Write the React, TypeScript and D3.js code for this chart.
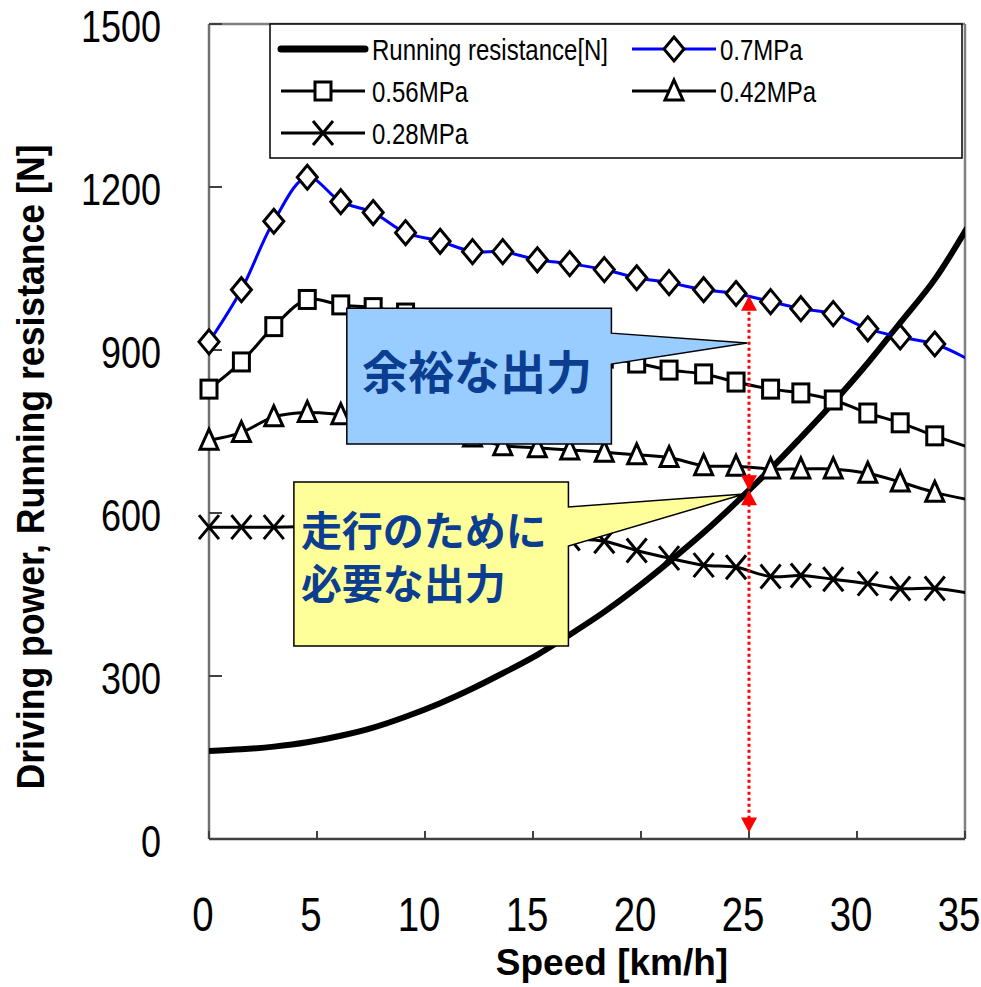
import React from "react";
import * as d3 from "d3";

const speeds = [0, 1.5, 3.0, 4.55, 6.1, 7.6, 9.1, 10.7, 12.2, 13.6, 15.2, 16.7, 18.3, 19.8, 21.3, 22.9, 24.4, 26.0, 27.4, 28.9, 30.5, 32.0, 33.6, 35.1];
const resistance = [162, 165, 170, 178, 190, 205, 225, 250, 277, 305, 339, 376, 418, 462, 510, 564, 619, 681, 739, 803, 876, 950, 1030, 1125];
const p070 = [915, 1011, 1137, 1218, 1173, 1153, 1116, 1100, 1081, 1081, 1066, 1059, 1048, 1033, 1024, 1011, 1004, 989, 976, 967, 939, 924, 911, 884];
const p056 = [828, 878, 943, 993, 983, 978, 968, 952, 937, 922, 907, 895, 885, 876, 863, 856, 841, 828, 821, 808, 784, 766, 742, 722];
const p042 = [734, 748, 777, 785, 781, 775, 765, 752, 740, 724, 720, 716, 712, 707, 702, 687, 686, 681, 681, 681, 673, 657, 638, 625];
const p028 = [574, 574, 574, 575, 576, 573, 570, 566, 562, 560, 558, 553, 548, 531, 517, 504, 500, 483, 485, 478, 470, 461, 461, 453];

const xTicks = [0, 5, 10, 15, 20, 25, 30, 35];
const yTicks = [0, 300, 600, 900, 1200, 1500];

const legendLabels = ["Running resistance[N]", "0.7MPa", "0.56MPa", "0.42MPa", "0.28MPa"];
const xTitle = "Speed [km/h]";
const yTitle = "Driving power,  Running resistance  [N]";
const note1 = ["余裕な出力"];
const note2 = ["走行のために", "必要な出力"];
const markSpeed = 25;
const markTop = 1000;
const markMid = 642;
const markBottom = 12;

const SANS = "'Liberation Sans', Arial, sans-serif";
const CJK = "'Noto Sans CJK JP', 'Noto Sans CJK SC', sans-serif";
const SX = 0.8;

const L = 209, R = 965, T = 24, B = 839;
const x = d3.scaleLinear().domain([0, 35]).range([L, R]);
const y = d3.scaleLinear().domain([0, 1500]).range([B, T]);

type Mk = "diamond" | "square" | "triangle" | "cross" | "none";

function marker(kind: Mk, cx: number, cy: number, key: string | number) {
  const sw = 3;
  if (kind === "diamond") {
    const p = `M${cx},${cy - 12}L${cx + 10},${cy}L${cx},${cy + 12}L${cx - 10},${cy}Z`;
    return <path key={key} d={p} fill="#fff" stroke="#000" strokeWidth={sw} />;
  }
  if (kind === "square") {
    return <rect key={key} x={cx - 8} y={cy - 9} width={16} height={18} fill="#fff" stroke="#000" strokeWidth={sw} />;
  }
  if (kind === "triangle") {
    const p = `M${cx},${cy - 11}L${cx + 9},${cy + 9}L${cx - 9},${cy + 9}Z`;
    return <path key={key} d={p} fill="#fff" stroke="#000" strokeWidth={sw} />;
  }
  if (kind === "cross") {
    const p = `M${cx - 10},${cy - 12}L${cx + 10},${cy + 12}M${cx + 10},${cy - 12}L${cx - 10},${cy + 12}`;
    return <path key={key} d={p} fill="none" stroke="#000" strokeWidth={sw} />;
  }
  return null;
}

function NText(props: { x: number; y: number; size: number; anchor?: string; bold?: boolean; sx?: number; children: React.ReactNode }) {
  const sx = props.sx ?? SX;
  return (
    <g transform={`translate(${props.x},${props.y}) scale(${sx},1)`}>
      <text x={0} y={0} textAnchor={props.anchor || "start"} fontFamily={SANS} fontWeight={props.bold ? "bold" : "normal"} fontSize={props.size} fill="#000">
        {props.children}
      </text>
    </g>
  );
}

const seriesList: { vals: number[]; color: string; width: number; mk: Mk; label: string }[] = [
  { vals: p028, color: "#000", width: 3, mk: "cross", label: legendLabels[4] },
  { vals: p042, color: "#000", width: 3, mk: "triangle", label: legendLabels[3] },
  { vals: p056, color: "#000", width: 3, mk: "square", label: legendLabels[2] },
  { vals: p070, color: "#0000ff", width: 3, mk: "diamond", label: legendLabels[1] },
];

export default function App() {
  const line = d3
    .line<number>()
    .x((_, i) => x(speeds[i]))
    .y((d) => y(d))
    .curve(d3.curveCatmullRom.alpha(0.5));

  const blue = {
    x0: 6.38, x1: 18.63, y0: 977, y1: 727,
    pTop: 931, pBot: 874, tipX: 24.92, tipY: 913,
  };
  const yellow = {
    x0: 3.93, x1: 16.64, y0: 657, y1: 355,
    pTop: 611, pBot: 539, tipX: 24.78, tipY: 635,
  };
  const calloutPath = (c: typeof blue) =>
    `M${x(c.x0)},${y(c.y0)}H${x(c.x1)}V${y(c.pTop)}L${x(c.tipX)},${y(c.tipY)}L${x(c.x1)},${y(c.pBot)}V${y(c.y1)}H${x(c.x0)}Z`;

  const ax = x(markSpeed);
  const arrowDown = (tip: number) => `M${ax - 8},${tip - 15}L${ax + 8},${tip - 15}L${ax},${tip}Z`;
  const arrowUp = (tip: number) => `M${ax - 8},${tip + 15}L${ax + 8},${tip + 15}L${ax},${tip}Z`;

  const legendRows = [49, 91, 133];
  const col1 = { x0: 281, x1: 365, tx: 372 };
  const col2 = { x0: 632, x1: 716, tx: 720 };
  const legendItems: { col: typeof col1; row: number; mk: Mk; color: string; w: number; label: string }[] = [
    { col: col1, row: legendRows[0], mk: "none", color: "#000", w: 7, label: legendLabels[0] },
    { col: col2, row: legendRows[0], mk: "diamond", color: "#0000ff", w: 3, label: legendLabels[1] },
    { col: col1, row: legendRows[1], mk: "square", color: "#000", w: 3, label: legendLabels[2] },
    { col: col2, row: legendRows[1], mk: "triangle", color: "#000", w: 3, label: legendLabels[3] },
    { col: col1, row: legendRows[2], mk: "cross", color: "#000", w: 3, label: legendLabels[4] },
  ];

  return (
    <svg width={981} height={987} style={{ position: "absolute", left: 0, top: 0, background: "#fff" }}>
      <defs>
        <clipPath id="plot">
          <rect x={L} y={T} width={R - L} height={B - T} />
        </clipPath>
      </defs>
      <rect width={981} height={987} fill="#fff" />

      {/* frame */}
      <line x1={L} x2={R} y1={T} y2={T} stroke="#808080" strokeWidth={2.5} />
      <line x1={R} x2={R} y1={T} y2={B} stroke="#808080" strokeWidth={2.5} />
      <line x1={L} x2={L} y1={T} y2={B} stroke="#707070" strokeWidth={2.5} />
      <line x1={L} x2={R} y1={B} y2={B} stroke="#404040" strokeWidth={2.5} />

      {/* y ticks */}
      {yTicks.map((t) => (
        <g key={"y" + t}>
          <line x1={L} x2={L + 13} y1={y(t)} y2={y(t)} stroke="#404040" strokeWidth={2} />
          <NText x={161} y={y(t) + 18} size={45} anchor="end">{t}</NText>
        </g>
      ))}
      {/* x ticks */}
      {xTicks.map((t) => (
        <g key={"x" + t}>
          <line x1={x(t)} x2={x(t)} y1={B} y2={B - 8} stroke="#404040" strokeWidth={2} />
          <NText x={x(t) - 6} y={931} size={48} anchor="middle">{t}</NText>
        </g>
      ))}

      {/* series lines (clipped) */}
      <g clipPath="url(#plot)">
        <path d={line(resistance) || ""} fill="none" stroke="#000" strokeWidth={6} />
        {seriesList.map((s, si) => (
          <path key={"l" + si} d={line(s.vals) || ""} fill="none" stroke={s.color} strokeWidth={s.width} />
        ))}
      </g>
      {/* markers */}
      {seriesList.map((s, si) => (
        <g key={"m" + si}>
          {s.vals.map((v, i) => (speeds[i] <= 35 ? marker(s.mk, x(speeds[i]), y(v), i) : null))}
        </g>
      ))}

      {/* callouts */}
      <path d={calloutPath(blue)} fill="#99ccff" stroke="#000" strokeWidth={1.5} />
      <text x={(x(blue.x0) + x(blue.x1)) / 2 - 2} y={y(blue.y0) + 81} textAnchor="middle" fontFamily={CJK} fontWeight="bold" fontSize={46} fill="#0b3d91">
        {note1[0]}
      </text>
      <path d={calloutPath(yellow)} fill="#ffff99" stroke="#000" strokeWidth={1.5} />
      {note2.map((s, i) => (
        <text key={"n2" + i} x={x(yellow.x0) + 7} y={y(yellow.y0) + 64 + i * 53} fontFamily={CJK} fontWeight="bold" fontSize={41} fill="#0b3d91">
          {s}
        </text>
      ))}

      {/* red dimension lines */}
      <line x1={ax} x2={ax} y1={y(markTop) + 4} y2={y(markBottom) - 4} stroke="#ff0000" strokeWidth={3} strokeDasharray="3,3" />
      <path d={arrowUp(y(markTop))} fill="#ff0000" />
      <path d={arrowDown(y(markMid))} fill="#ff0000" />
      <path d={arrowUp(y(markMid))} fill="#ff0000" />
      <path d={arrowDown(y(markBottom))} fill="#ff0000" />

      {/* legend */}
      <rect x={270} y={T} width={692} height={134} fill="#fff" stroke="#000" strokeWidth={1.5} />
      {legendItems.map((it, i) => (
        <g key={"lg" + i}>
          <line x1={it.col.x0} x2={it.col.x1} y1={it.row} y2={it.row} stroke={it.color} strokeWidth={it.w} strokeLinecap={it.mk === "none" ? "round" : "butt"} />
          {marker(it.mk, (it.col.x0 + it.col.x1) / 2, it.row, "m")}
          <NText x={it.col.tx} y={it.row + 11} size={30} sx={0.8}>{it.label}</NText>
        </g>
      ))}

      {/* axis titles */}
      <text x={612} y={975} textAnchor="middle" fontFamily={SANS} fontWeight="bold" fontSize={37} fill="#000">
        {xTitle}
      </text>
      <text
        transform={`translate(44,467) rotate(-90)`}
        textAnchor="middle"
        fontFamily={SANS}
        fontWeight="bold"
        fontSize={38}
        fill="#000"
        textLength={645}
        lengthAdjust="spacingAndGlyphs"
      >
        {yTitle}
      </text>
    </svg>
  );
}
